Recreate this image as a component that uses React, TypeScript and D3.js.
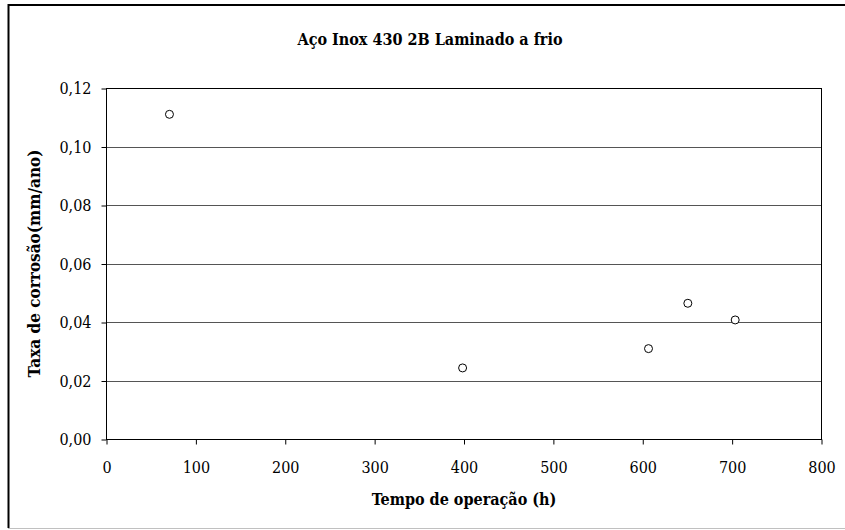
import React, { useEffect, useRef } from 'react';
import * as d3 from 'd3';

// Tempo de operação (h) and taxa de corrosão (mm/ano)
const hours = [71, 399, 607, 651, 704];
const rates = [0.111, 0.0243, 0.0309, 0.0464, 0.0407];
const xTicks = [0, 100, 200, 300, 400, 500, 600, 700, 800];
const yTicks = [0, 0.02, 0.04, 0.06, 0.08, 0.1, 0.12];

const chartTitle = 'Aço Inox 430 2B Laminado a frio';
const xTitle = 'Tempo de operação (h)';
const yTitle = 'Taxa de corrosão(mm/ano)';

const App: React.FC = () => {
  const svgRef = useRef<SVGSVGElement>(null);

  useEffect(() => {
    if (!svgRef.current) return;
    const width = 845;
    const height = 530;
    const plot = { left: 106, right: 821, top: 88, bottom: 439 };
    const font = "'DejaVu Serif Condensed', 'DejaVu Serif', serif";

    const svg = d3.select(svgRef.current);
    svg.selectAll('*').remove();

    svg.append('rect').attr('width', width).attr('height', height).attr('fill', '#fff');

    // outer frame (left + top black, bottom grey)
    svg.append('line').attr('x1', 8.5).attr('x2', width).attr('y1', 5).attr('y2', 5)
      .attr('stroke', '#000').attr('stroke-width', 2);
    svg.append('line').attr('x1', 8.5).attr('x2', 8.5).attr('y1', 4).attr('y2', 528)
      .attr('stroke', '#000').attr('stroke-width', 2);
    svg.append('line').attr('x1', 8).attr('x2', width).attr('y1', 528.5).attr('y2', 528.5)
      .attr('stroke', '#c0c0c0').attr('stroke-width', 1);

    const x = d3.scaleLinear().domain([0, 800]).range([plot.left, plot.right]);
    const y = d3.scaleLinear().domain([0, 0.12]).range([plot.bottom, plot.top]);
    const fmt = (v: number) => d3.format('.2f')(v).replace('.', ',');

    // gridlines
    svg.append('g').selectAll('line')
      .data(yTicks.filter(t => t > 0 && t < 0.12))
      .join('line')
      .attr('x1', plot.left).attr('x2', plot.right)
      .attr('y1', d => Math.round(y(d)) + 0.5).attr('y2', d => Math.round(y(d)) + 0.5)
      .attr('stroke', '#555').attr('stroke-width', 1);

    // plot frame
    svg.append('rect')
      .attr('x', plot.left + 0.5).attr('y', plot.top + 0.5)
      .attr('width', plot.right - plot.left).attr('height', plot.bottom - plot.top)
      .attr('fill', 'none').attr('stroke', '#000').attr('stroke-width', 1);

    // x axis
    const xAxis = svg.append('g')
      .attr('transform', `translate(0.5,${plot.bottom + 0.5})`)
      .call(d3.axisBottom(x).tickValues(xTicks).tickSize(5).tickSizeOuter(0).tickPadding(17));
    xAxis.attr('font-family', null);
    xAxis.select('.domain').remove();
    xAxis.selectAll('line').attr('stroke', '#000');
    xAxis.selectAll('text').style('font-family', font).style('font-stretch', 'condensed')
      .style('font-size', '16px').attr('fill', '#000');

    // y axis
    const yAxis = svg.append('g')
      .attr('transform', `translate(${plot.left + 0.5},0.5)`)
      .call(d3.axisLeft(y).tickValues(yTicks).tickFormat(d => fmt(d as number)).tickSize(5).tickSizeOuter(0).tickPadding(10));
    yAxis.attr('font-family', null);
    yAxis.select('.domain').remove();
    yAxis.selectAll('line').attr('stroke', '#000');
    yAxis.selectAll('text').style('font-family', font).style('font-stretch', 'condensed')
      .style('font-size', '16px').attr('fill', '#000');

    // points
    svg.append('g').selectAll('circle')
      .data(hours.map((h, i) => ({ h, r: rates[i] })))
      .join('circle')
      .attr('cx', d => x(d.h))
      .attr('cy', d => y(d.r))
      .attr('r', 4)
      .attr('fill', '#fff')
      .attr('stroke', '#000')
      .attr('stroke-width', 1);

    // titles
    const label = (t: d3.Selection<SVGTextElement, unknown, null, undefined>, size: number) =>
      t.style('font-family', font).style('font-stretch', 'condensed').style('font-size', `${size}px`)
        .attr('font-weight', 'bold').attr('text-anchor', 'middle').attr('fill', '#000');

    label(svg.append('text').attr('x', 430).attr('y', 45), 16).text(chartTitle);
    label(svg.append('text').attr('x', 464).attr('y', 505), 16).text(xTitle);
    label(svg.append('text').attr('transform', `translate(40,${(plot.top + plot.bottom) / 2}) rotate(-90)`), 17)
      .text(yTitle);
  }, []);

  return (
    <div style={{ position: 'absolute', left: 0, top: 0 }}>
      <svg ref={svgRef} width={845} height={530} style={{ display: 'block' }} />
    </div>
  );
};

export default App;
